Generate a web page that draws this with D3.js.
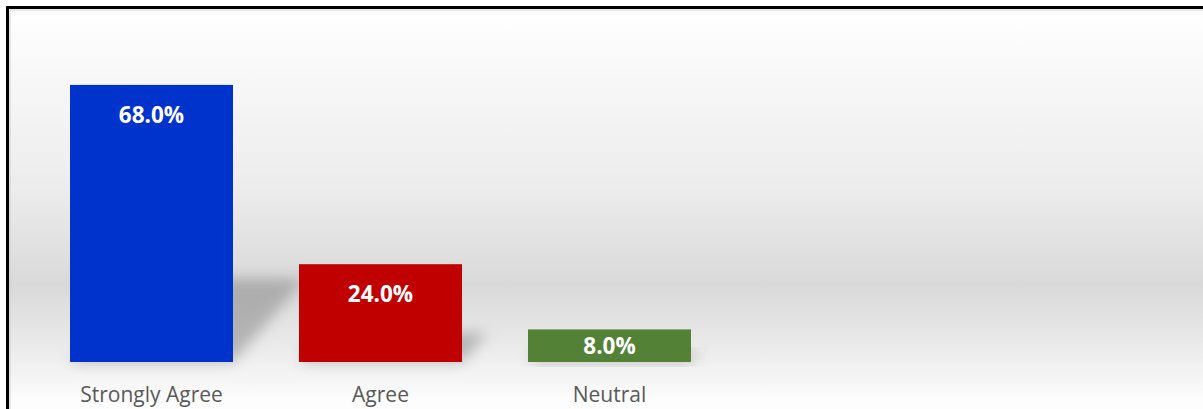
<!DOCTYPE html>
<html>
<head>
<meta charset="utf-8">
<script src="https://cdnjs.cloudflare.com/ajax/libs/d3/7.8.5/d3.min.js"></script>
<style>
  html, body { margin: 0; padding: 0; background: #fff; overflow: hidden; }
  svg { display: block; }
</style>
</head>
<body>
<div id="chart"></div>
<script>
// Survey responses
const categories = ['Strongly Agree', 'Agree', 'Neutral', 'Disagree', 'Strongly Disagree'];
const tickLabels = ['Strongly Agree', 'Agree', 'Neutral', '', ''];
const values = [0.68, 0.24, 0.08, null, null];
const barColors = ['#0033cc', '#c00000', '#538135', '#999', '#999'];

const width = 1203;
const height = 409;
const baseY = 362;

const svg = d3.select('#chart')
    .append('svg')
    .attr('width', width)
    .attr('height', height);

const defs = svg.append('defs');

// Background gradient: white at top, gray band near the baseline, white again at bottom
const grad = defs.append('linearGradient')
    .attr('id', 'bg')
    .attr('gradientUnits', 'userSpaceOnUse')
    .attr('x1', 0).attr('y1', 10)
    .attr('x2', 0).attr('y2', 409);
grad.append('stop').attr('offset', 0).attr('stop-color', '#ffffff');
grad.append('stop').attr('offset', 0.45).attr('stop-color', '#ececec');
grad.append('stop').attr('offset', 0.69).attr('stop-color', '#d9d9d9');
grad.append('stop').attr('offset', 0.84).attr('stop-color', '#eaeaea');
grad.append('stop').attr('offset', 0.98).attr('stop-color', '#fdfdfd');

const blur = defs.append('filter')
    .attr('id', 'blur')
    .attr('x', '-50%').attr('y', '-50%')
    .attr('width', '200%').attr('height', '200%');
blur.append('feGaussianBlur').attr('stdDeviation', 7);

// Chart area frame
svg.append('rect')
    .attr('x', 9).attr('y', 9)
    .attr('width', 1400).attr('height', 600)
    .attr('fill', 'url(#bg)');
svg.append('rect')
    .attr('x', 10).attr('y', 10)
    .attr('width', 1400).attr('height', 600)
    .attr('fill', 'none')
    .attr('stroke', '#d0d0d0')
    .attr('stroke-width', 1);
svg.append('rect')
    .attr('x', 7.5).attr('y', 7.5)
    .attr('width', 1400).attr('height', 600)
    .attr('fill', 'none')
    .attr('stroke', '#000')
    .attr('stroke-width', 3);

// Scales
const x = d3.scaleBand()
    .domain(categories)
    .range([37, 1182])
    .paddingInner(66 / 229)
    .paddingOuter(33 / 229);

const y = d3.scaleLinear()
    .domain([0, 0.8])
    .range([baseY, 36]);

const data = categories.map((c, i) => ({ cat: c, label: tickLabels[i], value: values[i], color: barColors[i] }))
    .filter(d => d.value != null);

// Perspective shadows
svg.append('g')
    .selectAll('path')
    .data(data)
    .enter()
    .append('path')
    .attr('d', d => {
        const x0 = x(d.cat), x1 = x0 + x.bandwidth();
        const h = baseY - y(d.value);
        const dx = h * 0.26, dy = h * 0.3;
        return `M${x0},${baseY}L${x1},${baseY}L${x1 + dx},${baseY - dy}L${x0 + dx},${baseY - dy}Z`;
    })
    .attr('fill', '#808080')
    .attr('opacity', 0.5)
    .attr('filter', 'url(#blur)');

// Bars
svg.append('g')
    .selectAll('rect')
    .data(data)
    .enter()
    .append('rect')
    .attr('x', d => x(d.cat))
    .attr('y', d => y(d.value))
    .attr('width', x.bandwidth())
    .attr('height', d => baseY - y(d.value))
    .attr('fill', d => d.color);

// Value labels
svg.append('g')
    .selectAll('text')
    .data(data)
    .enter()
    .append('text')
    .attr('x', d => x(d.cat) + x.bandwidth() / 2)
    .attr('y', d => Math.min(y(d.value) + 38, baseY - 8))
    .attr('text-anchor', 'middle')
    .attr('fill', '#fff')
    .attr('font-family', '"Open Sans", sans-serif')
    .attr('font-weight', 'bold')
    .attr('font-size', 22.5)
    .text(d => d3.format('.1%')(d.value));

// Category axis
const xAxis = d3.axisBottom(x)
    .tickSize(0)
    .tickPadding(0)
    .tickFormat((d, i) => tickLabels[i]);

const axisG = svg.append('g')
    .attr('transform', `translate(0,${baseY})`)
    .call(xAxis);
axisG.select('.domain').remove();
axisG.selectAll('text')
    .attr('dy', null)
    .attr('y', 40)
    .attr('fill', '#595959')
    .attr('font-family', '"Open Sans", sans-serif')
    .attr('font-size', 21);
</script>
</body>
</html>
